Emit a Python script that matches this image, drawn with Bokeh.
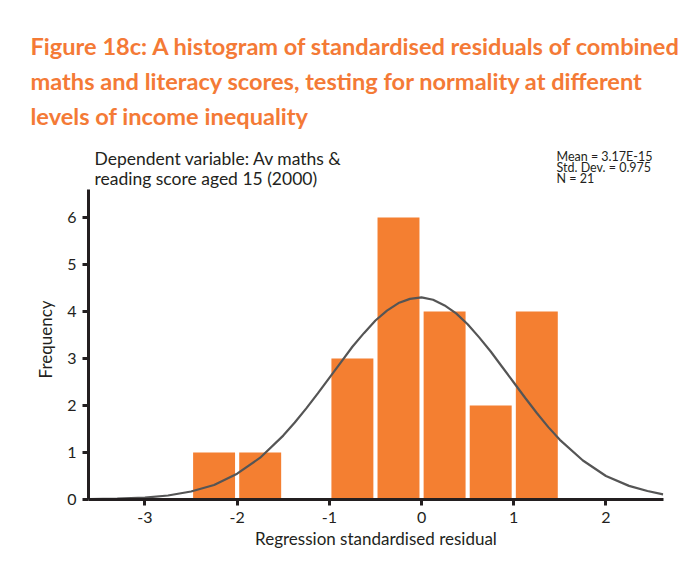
from bokeh.plotting import figure
from bokeh.models import Label, FixedTicker, Range1d, Title
from bokeh.embed import file_html
from bokeh.resources import INLINE

# ---- data ----
bin_centres = [-2.25, -1.75, -0.75, -0.25, 0.25, 0.75, 1.25]
counts = [1, 1, 3, 6, 4, 2, 4]

# normal curve (peak ~4.3 just left of 0)
curve_x = [-3.61, -3.3, -3.0, -2.75, -2.5, -2.25, -2.0, -1.75, -1.5, -1.375,
           -1.25, -1.125, -1.0, -0.875, -0.75, -0.625, -0.5, -0.375, -0.25,
           -0.125, 0.0, 0.125, 0.25, 0.375, 0.5, 0.625, 0.75, 0.875, 1.0, 1.125,
           1.25, 1.375, 1.5, 1.75, 2.0, 2.25, 2.45, 2.62]
curve_y = [0.01, 0.02, 0.04, 0.085, 0.17, 0.31, 0.55, 0.89, 1.36, 1.64,
           1.94, 2.26, 2.59, 2.92, 3.25, 3.54, 3.81, 4.02, 4.18,
           4.27, 4.30, 4.25, 4.13, 3.96, 3.73, 3.45, 3.15, 2.82, 2.49, 2.16,
           1.84, 1.54, 1.27, 0.83, 0.50, 0.29, 0.18, 0.11]

x_ticks = [-3, -2, -1, 0, 1, 2]
y_ticks = [0, 1, 2, 3, 4, 5, 6]

title_lines = ["Figure 18c: A histogram of standardised residuals of combined",
               "maths and literacy scores, testing for normality at different",
               "levels of income inequality"]
subtitle_lines = ["Dependent variable: Av maths &", "reading score aged 15 (2000)"]
stats_lines = ["Mean = 3.17E-15", "Std. Dev. = 0.975", "N = 21"]

ORANGE = "#F47F31"
TITLE_ORANGE = "#F47A36"
DARK = "#231F20"
FONT = "Lato"

p = figure(width=697, height=564, output_backend="svg", toolbar_location=None,
           x_range=Range1d(-3.612, 2.624), y_range=Range1d(0, 7.81),
           min_border_left=88, min_border_right=34, min_border_top=132,
           min_border_bottom=65)
p.background_fill_color = "white"
p.border_fill_color = "white"
p.outline_line_color = None
p.xgrid.visible = False
p.ygrid.visible = False

p.vbar(x=bin_centres, top=counts, bottom=0, width=0.455, fill_color=ORANGE,
       line_color=None)
p.line(curve_x, curve_y, line_color="#555555", line_width=2.2)

for ax in (p.xaxis[0], p.yaxis[0]):
    ax.axis_line_width = 3
    ax.axis_line_color = DARK
    ax.major_tick_line_width = 3
    ax.major_tick_line_color = DARK
    ax.major_tick_out = 6
    ax.major_tick_in = 0
    ax.minor_tick_line_color = None
    ax.major_label_text_font = FONT
    ax.major_label_text_font_size = "16px"
    ax.major_label_text_color = DARK
    ax.axis_label_text_font = FONT
    ax.axis_label_text_font_size = "17px"
    ax.axis_label_text_font_style = "normal"
    ax.axis_label_text_color = DARK
    ax.major_label_standoff = 6

p.xaxis[0].ticker = FixedTicker(ticks=x_ticks)
p.yaxis[0].ticker = FixedTicker(ticks=y_ticks)
p.xaxis[0].major_label_overrides = {t: str(t) for t in x_ticks}
p.yaxis[0].bounds = (0, 6.6)
p.xaxis[0].axis_label = "Regression standardised residual"
p.xaxis[0].axis_label_standoff = 2

# y-axis label as a left title so that it can be centred on the drawn axis
p.add_layout(Title(text="Frequency", align="left", offset=121, text_font=FONT,
                   text_font_style="normal", text_font_size="17px",
                   text_color=DARK, standoff=18), "left")

# title lines: later-added titles stack further from the frame
for t in reversed(title_lines):
    p.add_layout(Title(text=t, align="left", offset=-58, text_font=FONT,
                       text_font_style="bold", text_font_size="23.6px",
                       text_color=TITLE_ORANGE, standoff=5), "above")

# screen units are relative to frame bottom-left
for i, t in enumerate(subtitle_lines):
    p.add_layout(Label(x=6, y=341 - 20 * i, x_units="screen", y_units="screen",
                       text=t, text_font=FONT, text_font_size="17.5px",
                       text_color=DARK, text_baseline="middle", text_align="left"))
for i, t in enumerate(stats_lines):
    p.add_layout(Label(x=468, y=343 - 11 * i, x_units="screen", y_units="screen",
                       text=t, text_font=FONT, text_font_size="12.5px",
                       text_color=DARK, text_baseline="middle", text_align="left"))

open("out.html", "w").write(file_html(p, INLINE))
